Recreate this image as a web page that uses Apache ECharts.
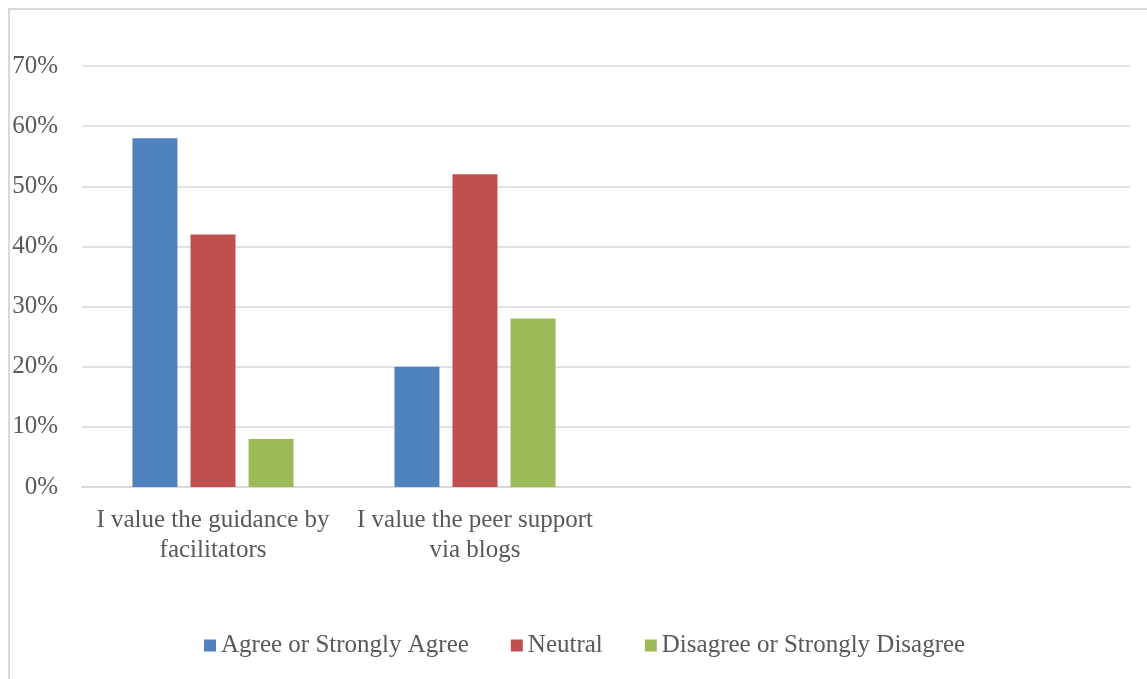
<!DOCTYPE html>
<html>
<head>
<meta charset="utf-8">
<script src="https://cdn.jsdelivr.net/npm/echarts@6/dist/echarts.min.js"></script>
<style>
html,body{margin:0;padding:0;background:#fff;}
#frame{position:absolute;left:8px;top:8px;width:1139px;height:671px;border-left:2px solid #d9d9d9;border-top:2px solid #d9d9d9;box-sizing:border-box;}
#chart{position:absolute;left:0;top:0;width:1147px;height:679px;}
</style>
</head>
<body>
<div id="frame"></div>
<div id="chart"></div>
<script>
const categories = ['I value the guidance by\nfacilitators', 'I value the peer support\nvia blogs', '', ''];
const seriesNames = ['Agree or Strongly Agree', 'Neutral', 'Disagree or Strongly Disagree'];
const agreeVals = [58, 20, null, null];
const neutralVals = [42, 52, null, null];
const disagreeVals = [8, 28, null, null];
const yTicks = [0, 10, 20, 30, 40, 50, 60, 70];
const colors = ['#4f81bd', '#c0504d', '#9bbb59'];
const font = 'Liberation Serif';
const txt = '#595959';
const chart = echarts.init(document.getElementById('chart'));
chart.setOption({
  animation: false,
  color: colors,
  grid: {left: 82, right: 17, top: 66, bottom: 192, containLabel: false},
  legend: {
    bottom: 21, left: 204, itemWidth: 12, itemHeight: 12, itemGap: 42, icon: 'rect',
    padding: 0,
    textStyle: {fontFamily: font, fontSize: 25, color: txt},
    data: seriesNames
  },
  xAxis: {
    type: 'category', data: categories,
    axisLine: {lineStyle: {color: '#d9d9d9', width: 2}},
    axisTick: {show: false},
    axisLabel: {interval: 0, fontFamily: font, fontSize: 25, color: txt, lineHeight: 30, margin: 18}
  },
  yAxis: {
    type: 'value', min: yTicks[0], max: yTicks[yTicks.length - 1], interval: 10,
    axisLine: {show: false}, axisTick: {show: false},
    splitLine: {lineStyle: {color: '#d9d9d9', width: 1.5}},
    axisLabel: {formatter: '{value}%', fontFamily: font, fontSize: 25, color: txt, margin: 24, verticalAlign: 'middle', lineHeight: 25, padding: [5, 0, 0, 0]}
  },
  series: [
    {name: seriesNames[0], type: 'bar', data: agreeVals, barWidth: 45, barGap: '29%'},
    {name: seriesNames[1], type: 'bar', data: neutralVals, barWidth: 45, barGap: '29%'},
    {name: seriesNames[2], type: 'bar', data: disagreeVals, barWidth: 45, barGap: '29%'}
  ]
});
</script>
</body>
</html>
